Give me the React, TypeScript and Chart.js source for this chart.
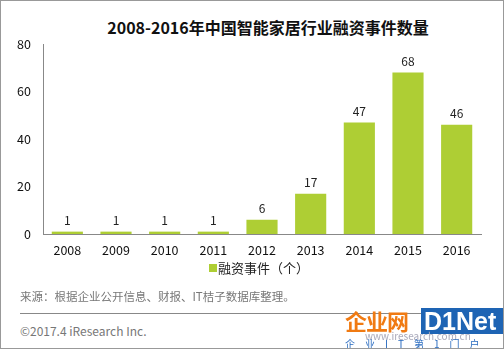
import React, { useEffect, useRef } from "react";
import { Chart, registerables } from "chart.js";

Chart.register(...registerables);

const years = ["2008", "2009", "2010", "2011", "2012", "2013", "2014", "2015", "2016"];
const deals = [1, 1, 1, 1, 6, 17, 47, 68, 46];
const yTicks = [0, 20, 40, 60, 80];
const seriesName = "融资事件（个）";
const titleText = "2008-2016年中国智能家居行业融资事件数量";
const sourceText = "来源：根据企业公开信息、财报、IT桔子数据库整理。";
const copyText = "©2017.4 iResearch Inc.";

const FONT = '"Noto Sans CJK SC", "Noto Sans", sans-serif';
const BAR = "#AECE34";

const labelPlugin = {
  id: "barLabels",
  afterDatasetsDraw(chart: any) {
    const ctx = chart.ctx;
    const meta = chart.getDatasetMeta(0);
    ctx.save();
    ctx.font = `12px ${FONT}`;
    ctx.fillStyle = "#222";
    ctx.textAlign = "center";
    ctx.textBaseline = "middle";
    meta.data.forEach((el: any, i: number) => {
      ctx.fillText(String(deals[i]), el.x, el.y - 11);
    });
    ctx.restore();
  },
};

export default function App() {
  const ref = useRef<HTMLCanvasElement | null>(null);
  useEffect(() => {
    document.body.style.margin = "0";
    const chart = new Chart(ref.current!, {
      type: "bar",
      data: {
        labels: years,
        datasets: [
          {
            label: seriesName,
            data: deals,
            backgroundColor: BAR,
            barPercentage: 0.64,
            categoryPercentage: 1,
          },
        ],
      },
      options: {
        animation: false,
        responsive: false,
        maintainAspectRatio: false,
        layout: { padding: { top: 44, right: 23, left: 0, bottom: 0 } },
        plugins: {
          legend: { display: false },
          title: { display: false },
          tooltip: { enabled: false },
        },
        scales: {
          x: {
            grid: { display: false, drawTicks: false },
            border: { display: true, color: "#888", width: 1 },
            ticks: { color: "#111", font: { family: FONT, size: 12.5 }, padding: 9 },
            afterFit: (s: any) => {
              s.height = 25;
            },
          },
          y: {
            min: 0,
            max: 80,
            afterBuildTicks: (s: any) => {
              s.ticks = yTicks.map((v) => ({ value: v }));
            },
            grid: { display: false, drawTicks: false },
            border: { display: true, color: "#888", width: 1 },
            ticks: { color: "#111", font: { family: FONT, size: 12.5 }, padding: 12 },
            afterFit: (s: any) => {
              s.width = 43;
            },
          },
        },
      },
      plugins: [labelPlugin],
    });
    return () => chart.destroy();
  }, []);

  return (
    <div
      style={{
        position: "relative",
        width: 504,
        height: 349,
        boxSizing: "border-box",
        border: "1px solid #999",
        background: "#fff",
        overflow: "hidden",
        fontFamily: FONT,
      }}
    >
      <div
        style={{
          position: "absolute",
          left: 0,
          width: 504,
          top: 14,
          textAlign: "center",
          fontSize: 16,
          fontWeight: "bold",
          color: "#111",
          lineHeight: "24px",
          paddingLeft: 30,
          boxSizing: "border-box",
        }}
      >
        {titleText}
      </div>
      <canvas
        ref={ref}
        width={504}
        height={259}
        style={{ position: "absolute", left: -1, top: -1, width: 504, height: 259 }}
      />
      <div
        style={{
          position: "absolute",
          left: 0,
          width: 504,
          top: 258,
          textAlign: "center",
          fontSize: 13,
          color: "#222",
          lineHeight: "18px",
          paddingLeft: 12,
          boxSizing: "border-box",
        }}
      >
        <span
          style={{
            display: "inline-block",
            width: 8,
            height: 8,
            background: BAR,
            marginRight: 1,
            verticalAlign: "middle",
            position: "relative",
            top: -1,
          }}
        />
        {seriesName}
      </div>
      <div
        style={{
          position: "absolute",
          left: 19,
          top: 286,
          fontSize: 11.5,
          color: "#777",
          lineHeight: "18px",
        }}
      >
        {sourceText}
      </div>
      <div
        style={{
          position: "absolute",
          left: 19,
          top: 312,
          width: 480,
          height: 0,
          borderTop: "1px solid #888",
        }}
      />
      <div
        style={{
          position: "absolute",
          left: 19,
          top: 321,
          fontSize: 12,
          color: "#777",
          lineHeight: "18px",
        }}
      >
        {copyText}
      </div>
      <div
        style={{
          position: "absolute",
          left: 344,
          top: 305,
          width: 160,
          height: 44,
        }}
      >
        <div
          style={{
            position: "absolute",
            left: 0,
            top: 0,
            fontSize: 22,
            fontWeight: "bold",
            color: "#F07A12",
            lineHeight: "28px",
            letterSpacing: -1,
          }}
        >
          企业网
        </div>
        <div
          style={{
            position: "absolute",
            left: 76,
            top: 2,
            width: 84,
            height: 26,
            background: "#1E64B4",
            color: "#fff",
            fontFamily: '"Liberation Sans", Arial, sans-serif',
            fontWeight: "bold",
            fontSize: 25,
            lineHeight: "26px",
            paddingLeft: 3,
            boxSizing: "border-box",
          }}
        >
          D1Net
        </div>
        <div
          style={{
            position: "absolute",
            left: 20,
            top: 24,
            fontSize: 10,
            color: "#aab",
            lineHeight: "12px",
          }}
        >
          www.iresearch.com.cn
        </div>
        <div
          style={{
            position: "absolute",
            left: 0,
            top: 31,
            fontSize: 10,
            color: "#2A6CC0",
            lineHeight: "14px",
            letterSpacing: 10,
            whiteSpace: "nowrap",
          }}
        >
          企业IT第1门户
        </div>
      </div>
    </div>
  );
}
